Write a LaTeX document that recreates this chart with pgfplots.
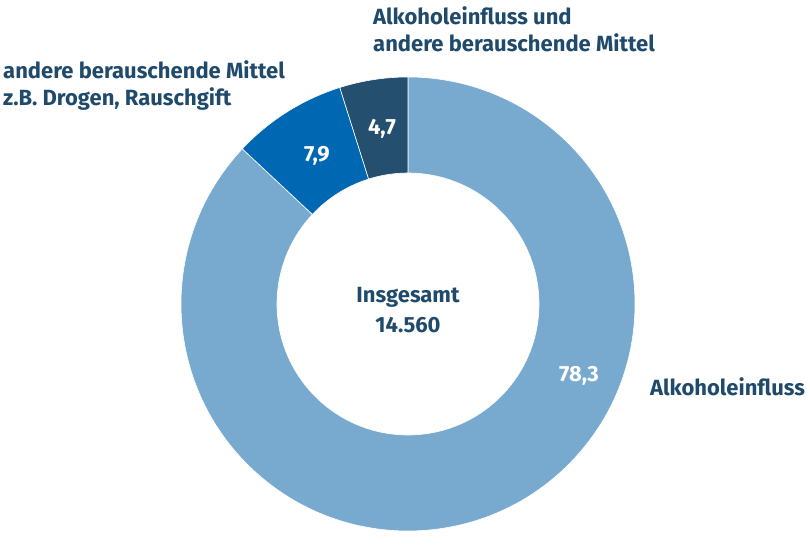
\documentclass[border=0pt]{standalone}
\usepackage{pgfplots}
\pgfplotsset{compat=1.18}
\usepackage{pgfplotstable}
\usepackage{fontspec}
\setmainfont{Fira Sans}
\definecolor{cLight}{HTML}{78AAD0}
\definecolor{cMid}{HTML}{0068B3}
\definecolor{cDark}{HTML}{244F6F}
\definecolor{cText}{HTML}{1F4A6B}

\pgfplotstableread{
name value
mixed 4.7
drugs 7.9
alcohol 78.3
}\datatable

\newcommand\donutwedge[3]{%
  \fill[#3, draw=white, line width=0.6bp] (axis cs:408,236) ++(#1:227bp)
    arc[start angle=#1, end angle=#2, radius=227bp]
    -- ([shift={(#2:131bp)}]axis cs:408,236)
    arc[start angle=#2, end angle=#1, radius=131bp] -- cycle;}
\newcommand\pct[1]{\pgfmathprintnumber[fixed,fixed zerofill,precision=1,use comma,assume math mode=true]{#1}}

\begin{document}
\begin{tikzpicture}[lbl/.style={inner sep=0pt,font=\fontsize{22bp}{28bp}\selectfont\bfseries}]
\pgfplotstablegetelem{0}{value}\of\datatable \let\vA\pgfplotsretval
\pgfplotstablegetelem{1}{value}\of\datatable \let\vB\pgfplotsretval
\pgfplotstablegetelem{2}{value}\of\datatable \let\vC\pgfplotsretval
\pgfmathsetmacro\aA{90+3.72*\vA}
\pgfmathsetmacro\aB{\aA+3.72*\vB}
\begin{axis}[width=810bp,height=540bp,scale only axis,
  xmin=0,xmax=810,ymin=0,ymax=540,hide axis,clip=false]
\path (axis cs:0,0) rectangle (axis cs:810,540);
\donutwedge{\aB}{450}{cLight}
\donutwedge{\aA}{\aB}{cMid}
\donutwedge{90}{\aA}{cDark}
% labels
\node[lbl,anchor=base west,text=cText] at (axis cs:373,515) {Alkoholeinfluss und};
\node[lbl,anchor=base west,text=cText] at (axis cs:373,488) {andere berauschende Mittel};
\node[lbl,anchor=base west,text=cText] at (axis cs:3,461) {andere berauschende Mittel};
\node[lbl,anchor=base west,text=cText] at (axis cs:3,434) {z.B. Drogen, Rauschgift};
\node[lbl,anchor=base west,text=cText] at (axis cs:650,144) {Alkoholeinfluss};
\node[lbl,anchor=base,text=cText] at (axis cs:408,237) {Insgesamt};
\node[lbl,anchor=base,text=cText] at (axis cs:408,207) {14.560};
\node[lbl,anchor=base,text=white] at (axis cs:579,158) {\pct{\vC}};
\node[lbl,anchor=base,text=white] at (axis cs:317,378) {\pct{\vB}};
\node[lbl,anchor=base,text=white] at (axis cs:382,405) {\pct{\vA}};
\end{axis}
\end{tikzpicture}
\end{document}
